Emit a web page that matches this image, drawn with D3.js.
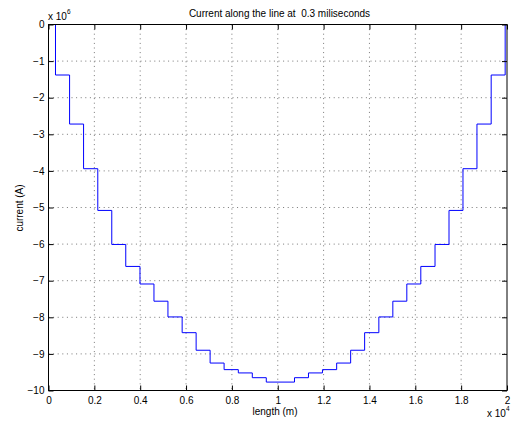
<!DOCTYPE html>
<html>
<head>
<meta charset="utf-8">
<script src="https://cdn.jsdelivr.net/npm/d3@7"></script>
<style>
  body { margin: 0; background: #fff; }
  text { font-family: "Liberation Sans", Arial, sans-serif; fill: #000; }
</style>
</head>
<body>
<div id="chart"></div>
<script>
// step edges along the line (m) and the current level after each edge (A, x 1e6)
const stepX = [0, 305, 920, 1530, 2150, 2760, 3370, 3990, 4600, 5210, 5830, 6440, 7050, 7660, 8280, 8890,
  9500, 10730, 11340, 11950, 12570, 13180, 13790, 14410, 15020, 15630, 16240, 16860, 17470, 18080, 18690, 19310, 19920];
const stepY = [0, -1.38, -2.72, -3.94, -5.08, -6.01, -6.61, -7.09, -7.56, -7.99, -8.42, -8.90, -9.25, -9.43, -9.52, -9.65,
  -9.77, -9.65, -9.52, -9.43, -9.25, -8.90, -8.42, -7.99, -7.56, -7.09, -6.61, -6.01, -5.08, -3.94, -2.72, -1.38, 0];
const xTicks = [0, 0.2, 0.4, 0.6, 0.8, 1, 1.2, 1.4, 1.6, 1.8, 2];
const yTicks = [0, -1, -2, -3, -4, -5, -6, -7, -8, -9, -10];

const width = 516, height = 423;
const margin = { left: 48.5, right: 9, top: 24.5, bottom: 32.5 };
const w = width - margin.left - margin.right;
const h = height - margin.top - margin.bottom;
const fontSize = 10;

const svg = d3.select('#chart').append('svg')
  .attr('width', width)
  .attr('height', height);

svg.append('rect').attr('width', width).attr('height', height).attr('fill', '#fff');

const g = svg.append('g').attr('transform', `translate(${margin.left},${margin.top})`);

const x = d3.scaleLinear().domain([0, 2e4]).range([0, w]);
const y = d3.scaleLinear().domain([-10e6, 0]).range([h, 0]);

// dotted grid
g.append('g')
  .selectAll('line')
  .data(xTicks.slice(1, -1))
  .join('line')
  .attr('x1', d => x(d * 1e4)).attr('x2', d => x(d * 1e4))
  .attr('y1', 0).attr('y2', h)
  .attr('stroke', '#777').attr('stroke-width', 1)
  .attr('stroke-dasharray', '1,3.6');

g.append('g')
  .selectAll('line')
  .data(yTicks.slice(1, -1))
  .join('line')
  .attr('x1', 0).attr('x2', w)
  .attr('y1', d => y(d * 1e6)).attr('y2', d => y(d * 1e6))
  .attr('stroke', '#777').attr('stroke-width', 1)
  .attr('stroke-dasharray', '1,3.6');

// staircase current
const line = d3.line()
  .x((d, i) => x(stepX[i]))
  .y(d => y(d * 1e6))
  .curve(d3.curveStepAfter);

g.append('path')
  .datum(stepY)
  .attr('d', line)
  .attr('fill', 'none')
  .attr('stroke', '#0000ff')
  .attr('stroke-width', 1);

// axes, ticks pointing inward
const fmtY = d => (d === 0 ? '0' : '\u2212' + Math.abs(d));
const xVals = xTicks.map(d => d * 1e4);
const yVals = yTicks.map(d => d * 1e6);

const axBottom = g.append('g').attr('transform', `translate(0,${h})`)
  .call(d3.axisBottom(x).tickValues(xVals).tickFormat(d => String(+(d / 1e4).toFixed(1)))
    .tickSizeInner(-5).tickSizeOuter(0).tickPadding(6));
const axTop = g.append('g')
  .call(d3.axisTop(x).tickValues(xVals).tickFormat('').tickSizeInner(-5).tickSizeOuter(0));
const axLeft = g.append('g')
  .call(d3.axisLeft(y).tickValues(yVals).tickFormat(d => fmtY(d / 1e6))
    .tickSizeInner(-5).tickSizeOuter(0).tickPadding(4));
const axRight = g.append('g').attr('transform', `translate(${w},0)`)
  .call(d3.axisRight(y).tickValues(yVals).tickFormat('').tickSizeInner(-5).tickSizeOuter(0));

[axBottom, axTop, axLeft, axRight].forEach(a => {
  a.select('.domain').remove();
  a.selectAll('text').attr('font-size', fontSize).attr('font-family', '"Liberation Sans", Arial, sans-serif');
  a.selectAll('line').attr('stroke', '#000');
});

g.append('rect')
  .attr('width', w).attr('height', h)
  .attr('fill', 'none').attr('stroke', '#000').attr('stroke-width', 1);

// titles and labels
svg.append('text')
  .attr('x', 279.5).attr('y', 16.5)
  .attr('text-anchor', 'middle').attr('font-size', fontSize)
  .style('white-space', 'pre')
  .text('Current along the line at  0.3 miliseconds');

svg.append('text')
  .attr('x', 275).attr('y', 415)
  .attr('text-anchor', 'middle').attr('font-size', fontSize)
  .text('length (m)');

svg.append('text')
  .attr('transform', 'translate(23,208) rotate(-90)')
  .attr('text-anchor', 'middle').attr('font-size', fontSize)
  .text('current (A)');

// exponent labels
const e6 = svg.append('text').attr('x', 48).attr('y', 20).attr('font-size', fontSize);
e6.append('tspan').text('x 10');
e6.append('tspan').attr('dy', -6).attr('font-size', 6.5).text('6');

const e4 = svg.append('text').attr('x', 487).attr('y', 417).attr('font-size', fontSize);
e4.append('tspan').text('x 10');
e4.append('tspan').attr('dy', -6).attr('font-size', 6.5).text('4');
</script>
</body>
</html>
